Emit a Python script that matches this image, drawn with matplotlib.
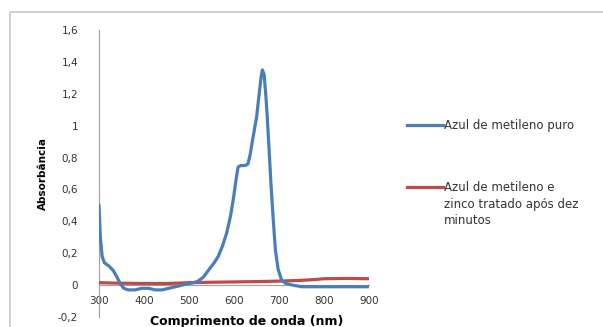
import matplotlib
matplotlib.use("Agg")
import matplotlib.pyplot as plt
from matplotlib.patches import Rectangle
from matplotlib.lines import Line2D

# spectra (nm, absorbance)
wl_puro = [300, 303, 307, 312, 322, 332, 340, 347, 355, 365, 380, 395, 410,
           425, 440, 455, 470, 485, 500, 510, 520, 532, 545, 556, 565, 575,
           584, 592, 598, 604, 609, 615, 625, 631, 636, 640, 645, 650, 656,
           660, 663, 667, 671, 674, 678, 682, 687, 692, 698, 706, 715, 730,
           750, 800, 850, 900]
abs_puro = [0.50, 0.30, 0.18, 0.14, 0.12, 0.09, 0.05, 0.01, -0.02, -0.03,
            -0.03, -0.02, -0.02, -0.03, -0.03, -0.02, -0.01, 0.00, 0.01, 0.015,
            0.025, 0.05, 0.10, 0.14, 0.18, 0.25, 0.33, 0.43, 0.53, 0.65, 0.74,
            0.75, 0.75, 0.76, 0.82, 0.89, 0.97, 1.05, 1.20, 1.30, 1.35, 1.32,
            1.18, 1.05, 0.85, 0.64, 0.42, 0.22, 0.10, 0.03, 0.01, 0.00, -0.01,
            -0.01, -0.01, -0.01]

wl_zinco = [300, 350, 400, 450, 500, 550, 600, 650, 700, 750, 780, 800, 850, 900]
abs_zinco = [0.015, 0.012, 0.010, 0.010, 0.015, 0.018, 0.020, 0.022, 0.025,
             0.030, 0.035, 0.040, 0.042, 0.040]

x_ticks = [300, 400, 500, 600, 700, 800, 900]
y_ticks = [-0.2, 0, 0.2, 0.4, 0.6, 0.8, 1.0, 1.2, 1.4, 1.6]
y_labels = ["-0,2", "0", "0,2", "0,4", "0,6", "0,8", "1", "1,2", "1,4", "1,6"]
leg_labels = ["Azul de metileno puro",
              "Azul de metileno e\nzinco tratado após dez\nminutos"]

BLUE = "#4a7ebb"
RED = "#be4b48"
W, H = 603, 327

fig = plt.figure(figsize=(W / 100, H / 100), dpi=100)
fig.patches.append(Rectangle((10 / W, -0.1), 1.2, 1 - 12 / H + 0.1,
                             transform=fig.transFigure, fill=False,
                             edgecolor="#c8c8c8", linewidth=1.2))

ax = fig.add_axes([99 / W, 1 - 317 / H, (369 - 99) / W, (317 - 30) / H])
ax.plot(wl_zinco, abs_zinco, color=RED, lw=2.3, zorder=3)
ax.plot(wl_puro, abs_puro, color=BLUE, lw=2.3, zorder=4)

ax.set_xlim(300, 900)
ax.set_ylim(-0.2, 1.6)
for s in ["top", "right"]:
    ax.spines[s].set_visible(False)
ax.spines["left"].set_color("#a0a0a0")
ax.spines["bottom"].set_position(("data", 0))
ax.spines["bottom"].set_color("#a0a0a0")

ax.set_xticks(x_ticks)
ax.set_xticklabels([str(v) for v in x_ticks])
ax.set_yticks(y_ticks)
ax.set_yticklabels(y_labels)
ax.tick_params(axis="both", length=0, labelsize=7.5, colors="#333333")
ax.tick_params(axis="y", pad=15)
ax.tick_params(axis="x", pad=8)

fig.text(247 / W, 1 - 321 / H, "Comprimento de onda (nm)", ha="center",
         va="center", fontsize=9, fontweight="bold")
fig.text(43 / W, 1 - 173 / H, "Absorbância", ha="center", va="center",
         rotation=90, fontsize=7.5, fontweight="bold")

# legend, drawn by hand so the swatch sits on the first text line
for col, lab, yy in [(BLUE, leg_labels[0], 125), (RED, leg_labels[1], 187)]:
    fig.add_artist(Line2D([407 / W, 443 / W], [1 - yy / H, 1 - yy / H],
                          transform=fig.transFigure, color=col, lw=2.3))
    fig.text(444 / W, 1 - (yy - 6) / H, lab, ha="left", va="top",
             fontsize=8.5, color="#333333", linespacing=1.35)

fig.savefig("out.png", dpi=100)
